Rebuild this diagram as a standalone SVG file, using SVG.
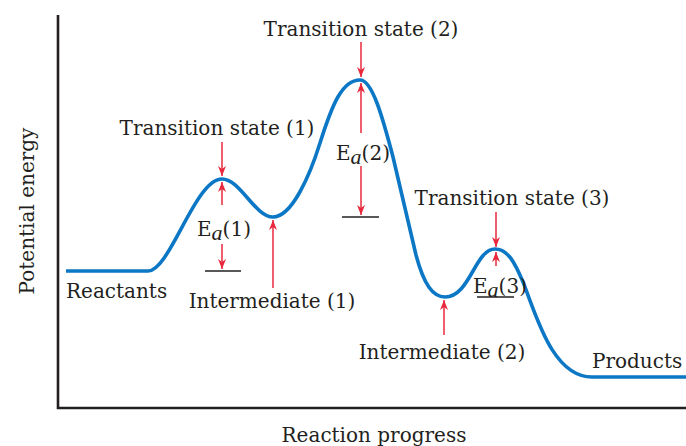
<svg xmlns="http://www.w3.org/2000/svg" width="686" height="446" viewBox="0 0 686 446">
<style>
text{font-family:"DejaVu Serif","Liberation Serif",serif;font-size:20px;fill:#231f20}
.it{font-family:"Liberation Serif",serif;font-style:italic;font-size:22px}
.arr{stroke:#e8283c;stroke-width:1.5;fill:none;marker-end:url(#ah)}
.bar{stroke:#231f20;stroke-width:1.5}
.axis{stroke:#231f20;stroke-width:2.6;fill:none}
.curve{stroke:#0b77c5;stroke-width:3.6;fill:none;stroke-linejoin:round}
</style>
<defs>
<marker id="ah" viewBox="-11 -5 13 10" refX="0" refY="0" markerWidth="13" markerHeight="10" markerUnits="userSpaceOnUse" orient="auto">
<path d="M0,0 L-10,-4 L-7,0 L-10,4 Z" fill="#e8283c"/>
</marker>
</defs>
<rect width="686" height="446" fill="#ffffff"/>
<g id="axes">
<path class="axis" d="M58,15 L58,408 L686,408"/>
<text id="y-label" transform="translate(34,211) rotate(-90)" text-anchor="middle">Potential energy</text>
<text id="x-label" x="374" y="442" text-anchor="middle">Reaction progress</text>
</g>
<g id="energy-curve">
<path class="curve" d="M66,271 L148,271 C170,271 195,179 222,179 C240,179 255,217 273,217 C292,217 310,175 320,143 C332,105 342,80 360,80 C372,80 382,115 393,157 L416,255 C424,285 433,297 445,297 C470,297 475,249 495,249 C508,249 515,263 523,282 C536,314 552,377 592,377 L686,377"/>
</g>
<g id="reactants"><text x="66" y="298">Reactants</text></g>
<g id="products"><text x="592" y="368">Products</text></g>
<g id="ts1"><text x="217" y="135" text-anchor="middle">Transition state (1)</text></g>
<g id="ts2"><text x="361" y="36" text-anchor="middle">Transition state (2)</text></g>
<g id="ts3"><text x="512" y="205" text-anchor="middle">Transition state (3)</text></g>
<g id="int1"><text x="272" y="308" text-anchor="middle">Intermediate (1)</text></g>
<g id="int2"><text x="442" y="359" text-anchor="middle">Intermediate (2)</text></g>
<g id="ea1"><text x="197" y="236">E<tspan class="it" dy="4">a</tspan><tspan dy="-4">(1)</tspan></text><line class="bar" x1="205" y1="271" x2="241" y2="271"/></g>
<g id="ea2"><text x="336" y="160">E<tspan class="it" dy="4">a</tspan><tspan dy="-4">(2)</tspan></text><line class="bar" x1="342" y1="217" x2="379" y2="217"/></g>
<g id="ea3"><text x="473" y="293">E<tspan class="it" dy="4">a</tspan><tspan dy="-4">(3)</tspan></text><line class="bar" x1="477" y1="297" x2="514" y2="297"/></g>
<g id="connectors">
<line class="arr" x1="222" y1="142" x2="222" y2="176"/>
<line class="arr" x1="222" y1="205" x2="222" y2="182"/>
<line class="arr" x1="222" y1="244" x2="222" y2="269"/>
<line class="arr" x1="273" y1="288" x2="273" y2="220"/>
<line class="arr" x1="361" y1="42" x2="361" y2="77"/>
<line class="arr" x1="361" y1="133" x2="361" y2="83"/>
<line class="arr" x1="361" y1="166" x2="361" y2="215"/>
<line class="arr" x1="496" y1="212" x2="496" y2="247"/>
<line class="arr" x1="496" y1="266" x2="496" y2="252"/>
<line class="arr" x1="444" y1="335" x2="444" y2="300"/>
</g>
</svg>
